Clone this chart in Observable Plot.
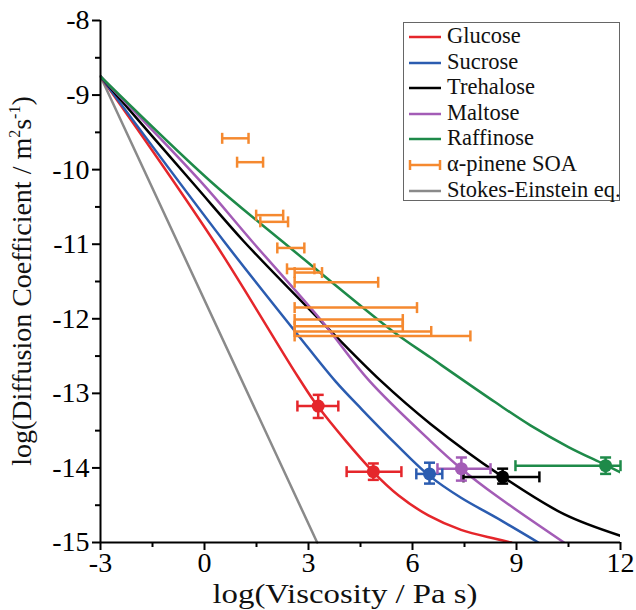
<!DOCTYPE html>
<html><head><meta charset="utf-8">
<script src="https://cdn.jsdelivr.net/npm/d3@7"></script>
<script src="https://cdn.jsdelivr.net/npm/@observablehq/plot@0.6"></script>
<style>
body{margin:0;background:#fff;}
#wrap{position:relative;width:636px;height:610px;}
#wrap svg text{font-family:"Liberation Serif","Times New Roman",serif !important;}
#legend{position:absolute;left:403px;top:22px;width:215px;height:177px;border:1.5px solid #666;background:#fff;
  font-family:"Liberation Serif","Times New Roman",serif;font-size:22.5px;color:#111;}
.row{position:absolute;left:0;height:26px;line-height:26px;white-space:nowrap;}
.row svg{position:absolute;left:3px;top:6px;}
.row span{position:absolute;left:43px;top:-1px;}
</style></head><body><div id="wrap"></div>
<script>
// ---- data ----
const sugars = ["Glucose", "Sucrose", "Trehalose", "Maltose", "Raffinose"];
const sugarColors = ["#e5262b", "#2b5cb0", "#000000", "#a35cb6", "#1e8a49"];
const soaColor = "#f5892f";
const seColor = "#8a8a8a";

const glucoseCurve = [[-3,-8.75],[0.27,-10.96],[2.7,-12.78],[3.28,-13.18],[4.88,-14.06],[5.6,-14.37],[6.47,-14.64],[7.4,-14.83],[8.39,-14.95],[8.85,-15.0]];
const sucroseCurve = [[-3,-8.75],[0.56,-10.96],[2.7,-12.22],[3.78,-12.84],[4.55,-13.22],[5.5,-13.67],[6.5,-14.11],[7.4,-14.4],[8.39,-14.66],[9.63,-15.0]];
const trehaloseCurve = [[-3,-8.75],[-0.26,-10.22],[1.13,-10.96],[3.4,-12.05],[5.08,-12.83],[6.52,-13.41],[8.54,-14.1],[10.37,-14.62],[12,-14.91]];
const maltoseCurve = [[-3,-8.75],[-0.12,-10.155],[1.37,-10.96],[3.4,-12.04],[4.75,-12.83],[6.52,-13.64],[7.43,-14.02],[8.44,-14.38],[10.37,-15.0]];
const raffinoseCurve = [[-3,-8.75],[0.17,-10.155],[2.24,-10.96],[5.41,-12.16],[6.52,-12.52],[8.39,-13.12],[9.4,-13.43],[10.5,-13.72],[11.52,-13.95],[12,-14.06]];
const sugarCurves = [glucoseCurve, sucroseCurve, trehaloseCurve, maltoseCurve, raffinoseCurve];

const stokesX = [-3, 3.25];
const stokesY = [-8.75, -15];

const pointSugar = ["Glucose", "Glucose", "Sucrose", "Maltose", "Trehalose", "Raffinose"];
const pointX    = [3.28, 4.87, 6.49, 7.41, 8.6, 11.57];
const pointXLo  = [2.68, 4.1, 6.11, 6.72, 7.47, 8.97];
const pointXHi  = [3.86, 5.68, 6.86, 8.25, 9.66, 12.0];
const pointY    = [-13.17, -14.05, -14.08, -14.01, -14.12, -13.97];
const pointYLo  = [-13.33, -14.16, -14.21, -14.17, -14.21, -14.08];
const pointYHi  = [-13.02, -13.94, -13.93, -13.86, -14.01, -13.86];

const soaY   = [-9.58, -9.9, -10.61, -10.7, -11.05, -11.33, -11.38, -11.51, -11.85, -12.01, -12.1, -12.17, -12.23];
const soaXLo = [0.51, 0.94, 1.49, 1.61, 2.1, 2.38, 2.6, 2.6, 2.6, 2.6, 2.6, 2.6, 2.6];
const soaXHi = [1.27, 1.69, 2.27, 2.41, 2.88, 3.17, 3.39, 5.01, 6.13, 5.72, 5.72, 6.54, 7.67];

const xTicks = [-3, 0, 3, 6, 9, 12];
const xMinor = [-1.5, 1.5, 4.5, 7.5, 10.5];
const yTicks = [-8, -9, -10, -11, -12, -13, -14, -15];
const yMinor = [-8.5, -9.5, -10.5, -11.5, -12.5, -13.5, -14.5];

const legendLabels = ["Glucose", "Sucrose", "Trehalose", "Maltose", "Raffinose", "α-pinene SOA", "Stokes-Einstein eq."];

// ---- tables ----
const curveRows = [];
sugars.forEach((s, i) => sugarCurves[i].forEach(([x, y]) => curveRows.push({s, x, y})));
const seRows = stokesX.map((x, i) => ({x, y: stokesY[i]}));
const pts = pointSugar.map((s, i) => ({s, x: pointX[i], xlo: pointXLo[i], xhi: pointXHi[i], y: pointY[i], ylo: pointYLo[i], yhi: pointYHi[i]}));
const soa = soaY.map((y, i) => ({y, lo: soaXLo[i], hi: soaXHi[i]}));

const capV = {draw(ctx, size) { const r = Math.sqrt(size / Math.PI); ctx.moveTo(0, -r); ctx.lineTo(0, r); }};
const capH = {draw(ctx, size) { const r = Math.sqrt(size / Math.PI); ctx.moveTo(-r, 0); ctx.lineTo(r, 0); }};

const FONT = "'Liberation Serif', 'Times New Roman', serif";
const SW = 2.5;

const plot = Plot.plot({
  width: 636, height: 610,
  marginLeft: 100, marginRight: 16, marginTop: 20, marginBottom: 68,
  style: {fontFamily: FONT, fontSize: "28px", background: "white", color: "black", overflow: "visible"},
  x: {domain: [-3, 12]},
  y: {domain: [-15, -8]},
  color: {domain: sugars, range: sugarColors},
  marks: [
    Plot.line(seRows, {x: "x", y: "y", stroke: seColor, strokeWidth: SW}),
    Plot.line(curveRows, {x: "x", y: "y", z: "s", stroke: "s", strokeWidth: SW, curve: "catmull-rom", clip: true}),
    Plot.link(soa, {x1: "lo", x2: "hi", y1: "y", y2: "y", stroke: soaColor, strokeWidth: SW}),
    Plot.dot(soa, {x: "lo", y: "y", symbol: capV, r: 5.5, fill: "none", stroke: soaColor, strokeWidth: SW}),
    Plot.dot(soa, {x: "hi", y: "y", symbol: capV, r: 5.5, fill: "none", stroke: soaColor, strokeWidth: SW}),
    Plot.link(pts, {x1: "xlo", x2: "xhi", y1: "y", y2: "y", stroke: "s", strokeWidth: SW}),
    Plot.link(pts, {x1: "x", x2: "x", y1: "ylo", y2: "yhi", stroke: "s", strokeWidth: SW}),
    Plot.dot(pts, {x: "xlo", y: "y", symbol: capV, r: 5.5, fill: "none", stroke: "s", strokeWidth: SW}),
    Plot.dot(pts, {x: "xhi", y: "y", symbol: capV, r: 5.5, fill: "none", stroke: "s", strokeWidth: SW}),
    Plot.dot(pts, {x: "x", y: "ylo", symbol: capH, r: 5.5, fill: "none", stroke: "s", strokeWidth: SW}),
    Plot.dot(pts, {x: "x", y: "yhi", symbol: capH, r: 5.5, fill: "none", stroke: "s", strokeWidth: SW}),
    Plot.dot(pts, {x: "x", y: "y", r: 6.5, fill: "s", stroke: "none"}),
    Plot.axisX(xTicks, {tickSize: 8, tickPadding: 2, strokeWidth: 2, fontSize: 28, fontFamily: FONT, tickFormat: d => String(d), label: null}),
    Plot.axisX(xMinor, {tickSize: 5, strokeWidth: 2, tickFormat: () => "", label: null}),
    Plot.axisY(yTicks, {tickSize: 8, tickPadding: 3, strokeWidth: 2, fontSize: 28, fontFamily: FONT, tickFormat: d => String(d), label: null}),
    Plot.axisY(yMinor, {tickSize: 5, strokeWidth: 2, tickFormat: () => "", label: null}),
    Plot.ruleX([-3], {strokeWidth: 2}),
    Plot.ruleY([-15], {strokeWidth: 2})
  ]
});

const svg = d3.select(plot);
svg.append("text")
  .attr("x", 345).attr("y", 603)
  .attr("text-anchor", "middle")
  .attr("font-size", 28)
  .attr("textLength", 265).attr("lengthAdjust", "spacingAndGlyphs")
  .attr("fill", "#111")
  .text("log(Viscosity / Pa s)");

const yt = svg.append("text")
  .attr("transform", "translate(31,281) rotate(-90)")
  .attr("text-anchor", "middle")
  .attr("font-size", 28)
  .attr("fill", "#111");
yt.append("tspan").text("log(Diffusion Coefficient / m");
yt.append("tspan").attr("font-size", 16).attr("dy", -11).text("2");
yt.append("tspan").attr("font-size", 28).attr("dy", 11).text("s");
yt.append("tspan").attr("font-size", 16).attr("dy", -11).text("-1");
yt.append("tspan").attr("font-size", 28).attr("dy", 11).text(")");

svg.selectAll("text").style("font-family", FONT);

const wrap = document.getElementById("wrap");
wrap.appendChild(plot);

// ---- legend ----
const legend = document.createElement("div");
legend.id = "legend";
const legendColors = [...sugarColors, soaColor, seColor];
legendLabels.forEach((lab, i) => {
  const row = document.createElement("div");
  row.className = "row";
  row.style.top = (1 + i * 25.6) + "px";
  row.style.width = "215px";
  const c = legendColors[i];
  const isSoa = i === 5;
  row.innerHTML = `<svg width="36" height="14" viewBox="0 0 36 14">
    <line x1="2" x2="34" y1="7" y2="7" stroke="${c}" stroke-width="2.5"/>
    ${isSoa ? `<line x1="3" x2="3" y1="2" y2="12" stroke="${c}" stroke-width="2.5"/><line x1="33" x2="33" y1="2" y2="12" stroke="${c}" stroke-width="2.5"/>` : ""}
  </svg><span>${lab}</span>`;
  legend.appendChild(row);
});
wrap.appendChild(legend);
</script>
</body></html>
